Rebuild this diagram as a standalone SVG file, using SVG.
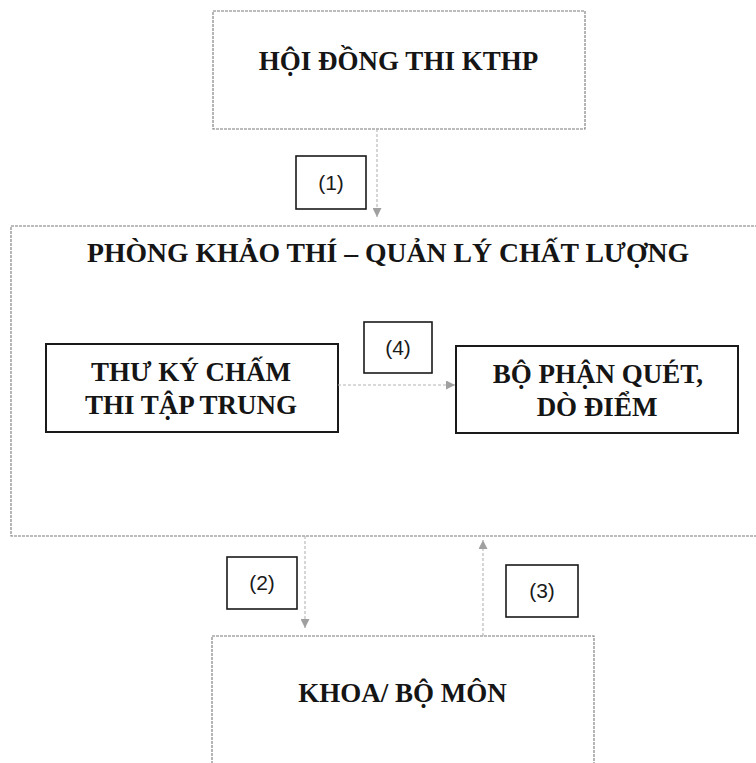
<svg xmlns="http://www.w3.org/2000/svg" width="756" height="763" viewBox="0 0 756 763">
<defs>
<style>
.outer{fill:none;stroke:#7a7a7a;stroke-width:1.1;stroke-dasharray:3 1}
.inner{fill:none;stroke:#1a1a1a;stroke-width:2}
.lbl{fill:none;stroke:#1a1a1a;stroke-width:1.6}
.t{font-family:"Liberation Serif","Times New Roman",serif;font-weight:bold;font-size:27px;fill:#151515;text-anchor:middle}
.n{font-family:"Liberation Sans",Arial,sans-serif;font-size:21px;fill:#1a1a1a;text-anchor:middle}
.conn{stroke:#b4b4b4;stroke-width:1.1;stroke-dasharray:3 2;fill:none}
</style>
<marker id="ah" viewBox="0 0 10 10" refX="10" refY="5" markerWidth="10" markerHeight="9" markerUnits="userSpaceOnUse" orient="auto">
<path d="M0,0 L10,5 L0,10 Z" fill="#a0a0a0"/>
</marker>
</defs>
<rect width="756" height="763" fill="#ffffff"/>

<g id="hoi-dong">
<rect class="outer" x="213" y="11" width="372" height="118"/>
<text class="t" x="398.5" y="70">HỘI ĐỒNG THI KTHP</text>
</g>

<g id="phong-khao-thi">
<rect class="outer" x="11" y="226" width="760" height="310"/>
<text class="t" x="388" y="262" textLength="602" lengthAdjust="spacingAndGlyphs">PHÒNG KHẢO THÍ – QUẢN LÝ CHẤT LƯỢNG</text>
</g>

<g id="thu-ky">
<rect class="inner" x="46" y="344" width="292" height="88"/>
<text class="t" x="191" y="381">THƯ KÝ CHẤM</text>
<text class="t" x="191" y="414">THI TẬP TRUNG</text>
</g>

<g id="bo-phan-quet">
<rect class="inner" x="456" y="346" width="282" height="87"/>
<text class="t" x="598" y="383">BỘ PHẬN QUÉT,</text>
<text class="t" x="597" y="416">DÒ ĐIỂM</text>
</g>

<g id="khoa-bo-mon">
<rect class="outer" x="212" y="636" width="382" height="140"/>
<text class="t" x="402.5" y="702">KHOA/ BỘ MÔN</text>
</g>

<g id="connectors">
<line class="conn" x1="377" y1="129" x2="377" y2="217" marker-end="url(#ah)"/>
<line class="conn" x1="338" y1="385" x2="455" y2="385" marker-end="url(#ah)"/>
<line class="conn" x1="305" y1="536" x2="305" y2="628" marker-end="url(#ah)"/>
<line class="conn" x1="483" y1="636" x2="483" y2="540" marker-end="url(#ah)"/>
</g>

<g id="labels">
<g id="label-1">
<rect class="lbl" x="296" y="156" width="70" height="53"/>
<text class="n" x="331" y="190">(1)</text>
</g>
<g id="label-2">
<rect class="lbl" x="227" y="557" width="70" height="52"/>
<text class="n" x="262" y="590">(2)</text>
</g>
<g id="label-3">
<rect class="lbl" x="506" y="565" width="72" height="52"/>
<text class="n" x="542" y="598">(3)</text>
</g>
<g id="label-4">
<rect class="lbl" x="364" y="322" width="68" height="51"/>
<text class="n" x="398" y="355">(4)</text>
</g>
</g>
</svg>
